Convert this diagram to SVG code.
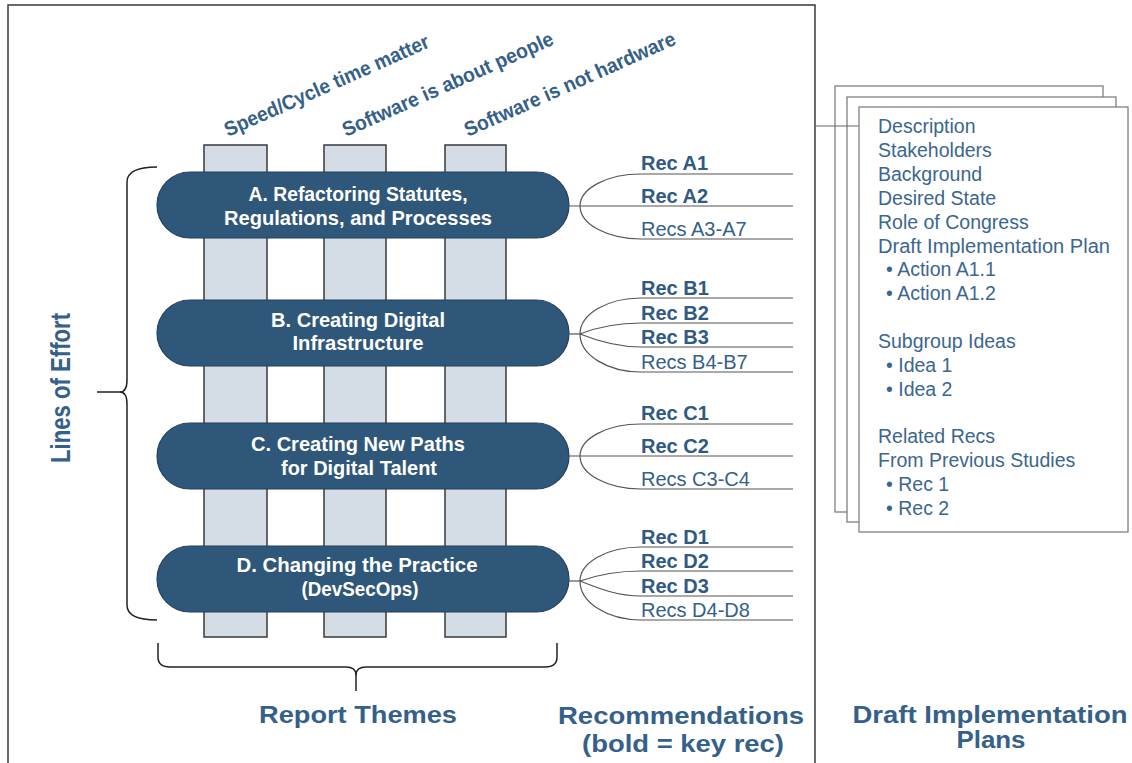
<svg xmlns="http://www.w3.org/2000/svg" width="1132" height="763" viewBox="0 0 1132 763">
<style>
  .frame{fill:none;stroke:#3a3a3a;stroke-width:1.5}
  .col{fill:#d4dde5;stroke:#3a3a3a;stroke-width:1.5}
  .pill{fill:#2f5779;stroke:#22415e;stroke-width:1.2}
  .pt{font-family:"Liberation Sans",Arial,sans-serif;font-weight:bold;font-size:20px;fill:#ffffff;text-anchor:middle}
  .theme{font-family:"Liberation Sans",Arial,sans-serif;font-weight:bold;font-size:20.5px;fill:#34608a}
  .rk{font-family:"Liberation Sans",Arial,sans-serif;font-weight:bold;font-size:20px;fill:#2f5a82}
  .rr{font-family:"Liberation Sans",Arial,sans-serif;font-size:20px;fill:#34608a}
  .pg{fill:#ffffff;stroke:#808080;stroke-width:1.3}
  .pgt{font-family:"Liberation Sans",Arial,sans-serif;font-size:19.5px;fill:#3b6690}
  .lab{font-family:"Liberation Sans",Arial,sans-serif;font-weight:bold;font-size:23px;fill:#34608a;text-anchor:middle}
  .con{fill:none;stroke:#555555;stroke-width:1.2}
  .brace{fill:none;stroke:#222222;stroke-width:1.5}
</style>

<path class="frame" d="M8,763 L8,5 L815,5 L815,763"/>

<g id="themes">
  <rect class="col" x="204" y="145" width="63" height="492"/>
  <rect class="col" x="324" y="145" width="62" height="492"/>
  <rect class="col" x="445" y="145" width="61" height="492"/>
  <text class="theme" transform="translate(228,137) rotate(-24)" textLength="222" lengthAdjust="spacingAndGlyphs">Speed/Cycle time matter</text>
  <text class="theme" transform="translate(346,137) rotate(-24)" textLength="229" lengthAdjust="spacingAndGlyphs">Software is about people</text>
  <text class="theme" transform="translate(468,137) rotate(-24)" textLength="229" lengthAdjust="spacingAndGlyphs">Software is not hardware</text>
</g>

<g id="loeA">
  <rect class="pill" x="157" y="172" width="412" height="66" rx="33" ry="33"/>
  <text class="pt" x="358" y="201" textLength="219" lengthAdjust="spacingAndGlyphs">A. Refactoring Statutes,</text>
  <text class="pt" x="358" y="225" textLength="268" lengthAdjust="spacingAndGlyphs">Regulations, and Processes</text>
</g>
<g id="loeB">
  <rect class="pill" x="157" y="300" width="412" height="66" rx="33" ry="33"/>
  <text class="pt" x="358" y="327" textLength="174" lengthAdjust="spacingAndGlyphs">B. Creating Digital</text>
  <text class="pt" x="358" y="350" textLength="131" lengthAdjust="spacingAndGlyphs">Infrastructure</text>
</g>
<g id="loeC">
  <rect class="pill" x="157" y="423" width="412" height="66" rx="33" ry="33"/>
  <text class="pt" x="358" y="451" textLength="214" lengthAdjust="spacingAndGlyphs">C. Creating New Paths</text>
  <text class="pt" x="359" y="475" textLength="156" lengthAdjust="spacingAndGlyphs">for Digital Talent</text>
</g>
<g id="loeD">
  <rect class="pill" x="157" y="546" width="412" height="66" rx="33" ry="33"/>
  <text class="pt" x="357" y="572" textLength="241" lengthAdjust="spacingAndGlyphs">D. Changing the Practice</text>
  <text class="pt" x="360" y="596" textLength="117" lengthAdjust="spacingAndGlyphs">(DevSecOps)</text>
</g>

<g id="connectors">
  <path class="con" d="M580,206 A61,32 0 0 1 641,174 L793,174"/>
  <path class="con" d="M569,206 L793,206"/>
  <path class="con" d="M580,206 A61,33 0 0 0 641,239 L793,239"/>

  <path class="con" d="M569,334 L580,334"/>
  <path class="con" d="M580,334 A61,36 0 0 1 641,298 L793,298"/>
  <path class="con" d="M580,334 C600,326 618,323 641,323 L793,323"/>
  <path class="con" d="M580,334 C600,342 618,347 641,347 L793,347"/>
  <path class="con" d="M580,334 A61,38 0 0 0 641,372 L793,372"/>

  <path class="con" d="M580,456 A61,32 0 0 1 641,424 L793,424"/>
  <path class="con" d="M569,456 L793,456"/>
  <path class="con" d="M580,456 A61,33 0 0 0 641,489 L793,489"/>

  <path class="con" d="M569,581 L580,581"/>
  <path class="con" d="M580,581 A61,34 0 0 1 641,547 L793,547"/>
  <path class="con" d="M580,581 C600,574 618,571 641,571 L793,571"/>
  <path class="con" d="M580,581 C600,589 618,596 641,596 L793,596"/>
  <path class="con" d="M580,581 A61,39 0 0 0 641,620 L793,620"/>
</g>

<g id="recs">
  <text class="rk" x="641" y="170">Rec A1</text>
  <text class="rk" x="641" y="203">Rec A2</text>
  <text class="rr" x="641" y="236">Recs A3-A7</text>
  <text class="rk" x="641" y="295">Rec B1</text>
  <text class="rk" x="641" y="320">Rec B2</text>
  <text class="rk" x="641" y="344">Rec B3</text>
  <text class="rr" x="641" y="369">Recs B4-B7</text>
  <text class="rk" x="641" y="420">Rec C1</text>
  <text class="rk" x="641" y="453">Rec C2</text>
  <text class="rr" x="641" y="486">Recs C3-C4</text>
  <text class="rk" x="641" y="544">Rec D1</text>
  <text class="rk" x="641" y="568">Rec D2</text>
  <text class="rk" x="641" y="593">Rec D3</text>
  <text class="rr" x="641" y="617">Recs D4-D8</text>
</g>

<g id="plans">
  <rect class="pg" x="835" y="86" width="268" height="426"/>
  <rect class="pg" x="847" y="97" width="269" height="425"/>
  <path class="con" d="M815,126 L859,126" style="stroke:#666"/>
  <rect class="pg" x="859" y="107" width="269" height="425"/>
  <text class="pgt" x="878" y="133">Description</text>
  <text class="pgt" x="878" y="157">Stakeholders</text>
  <text class="pgt" x="878" y="181">Background</text>
  <text class="pgt" x="878" y="205">Desired State</text>
  <text class="pgt" x="878" y="228.5">Role of Congress</text>
  <text class="pgt" x="878" y="252.5" textLength="232" lengthAdjust="spacingAndGlyphs">Draft Implementation Plan</text>
  <text class="pgt" x="886" y="276">• Action A1.1</text>
  <text class="pgt" x="886" y="300">• Action A1.2</text>
  <text class="pgt" x="878" y="348">Subgroup Ideas</text>
  <text class="pgt" x="886" y="371.5">• Idea 1</text>
  <text class="pgt" x="886" y="395.5">• Idea 2</text>
  <text class="pgt" x="878" y="443">Related Recs</text>
  <text class="pgt" x="878" y="467">From Previous Studies</text>
  <text class="pgt" x="886" y="490.5">• Rec 1</text>
  <text class="pgt" x="886" y="514.5">• Rec 2</text>
</g>

<g id="braces">
  <path class="brace" d="M157,167 Q127,167 127,182 L127,380 Q127,392 120,392 Q127,392 127,404 L127,605 Q127,620 157,620"/>
  <path class="brace" d="M97,392 L122,392"/>
  <path class="brace" d="M158,643 L158,657 Q158,667 170,667 L346,667 Q356,667 356,675 Q356,667 366,667 L545,667 Q557,667 557,657 L557,643"/>
  <path class="brace" d="M356,671 L356,691"/>
</g>

<g id="labels">
  <text class="lab" transform="translate(70,388) rotate(-90)" style="font-size:28px" textLength="150" lengthAdjust="spacingAndGlyphs">Lines of Effort</text>
  <text class="lab" x="358" y="723" textLength="198" lengthAdjust="spacingAndGlyphs">Report Themes</text>
  <text class="lab" x="681" y="724" textLength="246" lengthAdjust="spacingAndGlyphs">Recommendations</text>
  <text class="lab" x="683" y="752" textLength="202" lengthAdjust="spacingAndGlyphs">(bold = key rec)</text>
  <text class="lab" x="990" y="723" textLength="275" lengthAdjust="spacingAndGlyphs">Draft Implementation</text>
  <text class="lab" x="991" y="748" textLength="69" lengthAdjust="spacingAndGlyphs">Plans</text>
</g>
</svg>
